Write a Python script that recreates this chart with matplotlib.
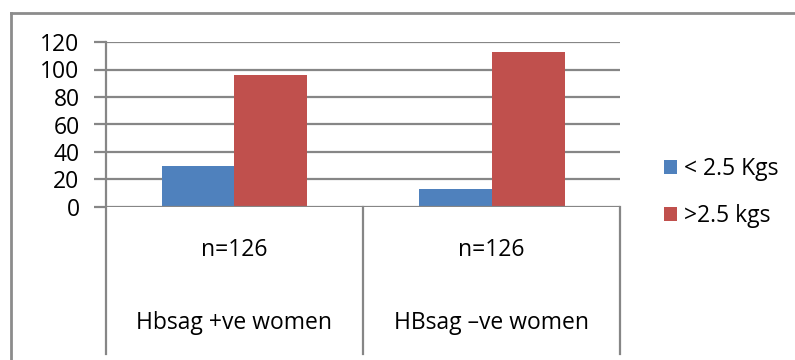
import matplotlib.pyplot as plt
from matplotlib.lines import Line2D
from matplotlib.patches import Patch
import matplotlib.transforms as mtransforms

# Data
groups = ["Hbsag +ve women", "HBsag \u2013ve women"]
sample_sizes = ["n=126", "n=126"]
series_names = ["< 2.5 Kgs", ">2.5 kgs"]
low_weight = [30, 13]
normal_weight = [96, 113]
y_ticks = [0, 20, 40, 60, 80, 100, 120]

colors = ["#4F81BD", "#C0504D"]
grid_color = "#868686"
font = ["Open Sans", "DejaVu Sans"]
plt.rcParams["font.family"] = font
fs = 16.5

W, H = 795, 360
fig = plt.figure(figsize=(W / 100, H / 100), dpi=100)

def fx(px):
    return px / W

def fy(py):
    return 1 - py / H

# Plot area
left, right, top, bottom = 106, 620, 42, 207
ax = fig.add_axes([fx(left), fy(bottom), fx(right) - fx(left), fy(top) - fy(bottom)])
ax.set_xlim(0, 2)
ax.set_ylim(0, 120)

bar_w = 73 / 257
xs = [0.5, 1.5]
ax.bar([x - bar_w / 2 for x in xs], low_weight, width=bar_w, color=colors[0], zorder=3)
ax.bar([x + bar_w / 2 for x in xs], normal_weight, width=bar_w, color=colors[1], zorder=3)

for v in y_ticks[1:]:
    ax.axhline(v, color=grid_color, lw=1.6, zorder=1)
ax.axhline(0, color=grid_color, lw=1.6, zorder=4)

for s in ax.spines.values():
    s.set_visible(False)
ax.set_xticks([])
ax.set_yticks(y_ticks)
ax.tick_params(axis="y", length=9, width=1.6, color=grid_color, labelsize=fs, pad=10)

# Category table below the axis
blend = mtransforms.blended_transform_factory(ax.transData, ax.transAxes)
low_end = (bottom - 354) / (bottom - top)
ax.add_line(Line2D([0, 0], [1, low_end], transform=blend, color=grid_color, lw=1.6, clip_on=False, zorder=5))
for xv in [1, 2]:
    ax.add_line(Line2D([xv, xv], [0, low_end], transform=blend, color=grid_color, lw=1.6, clip_on=False))

for x, n, g in zip(xs, sample_sizes, groups):
    ax.text(x, (bottom - 250) / (bottom - top), n, transform=blend, ha="center", va="center", fontsize=fs)
    ax.text(x, (bottom - 323) / (bottom - top), g, transform=blend, ha="center", va="center", fontsize=fs)

# Outer frame (left and top edges)
fig.add_artist(Line2D([fx(10.5), fx(10.5)], [fy(13), 0], transform=fig.transFigure, color="#8c8c8c", lw=2))
fig.add_artist(Line2D([fx(10.5), 1], [fy(13), fy(13)], transform=fig.transFigure, color="#8c8c8c", lw=2))

# Legend
handles = [Patch(facecolor=c, edgecolor="none") for c in colors]
fig.legend(handles, series_names, loc="center left", bbox_to_anchor=(fx(643), fy(192.5)),
           frameon=False, fontsize=fs, handlelength=0.6, handleheight=0.6,
           handletextpad=0.3, labelspacing=1.0)

fig.savefig("out.png", dpi=100, facecolor="white")
